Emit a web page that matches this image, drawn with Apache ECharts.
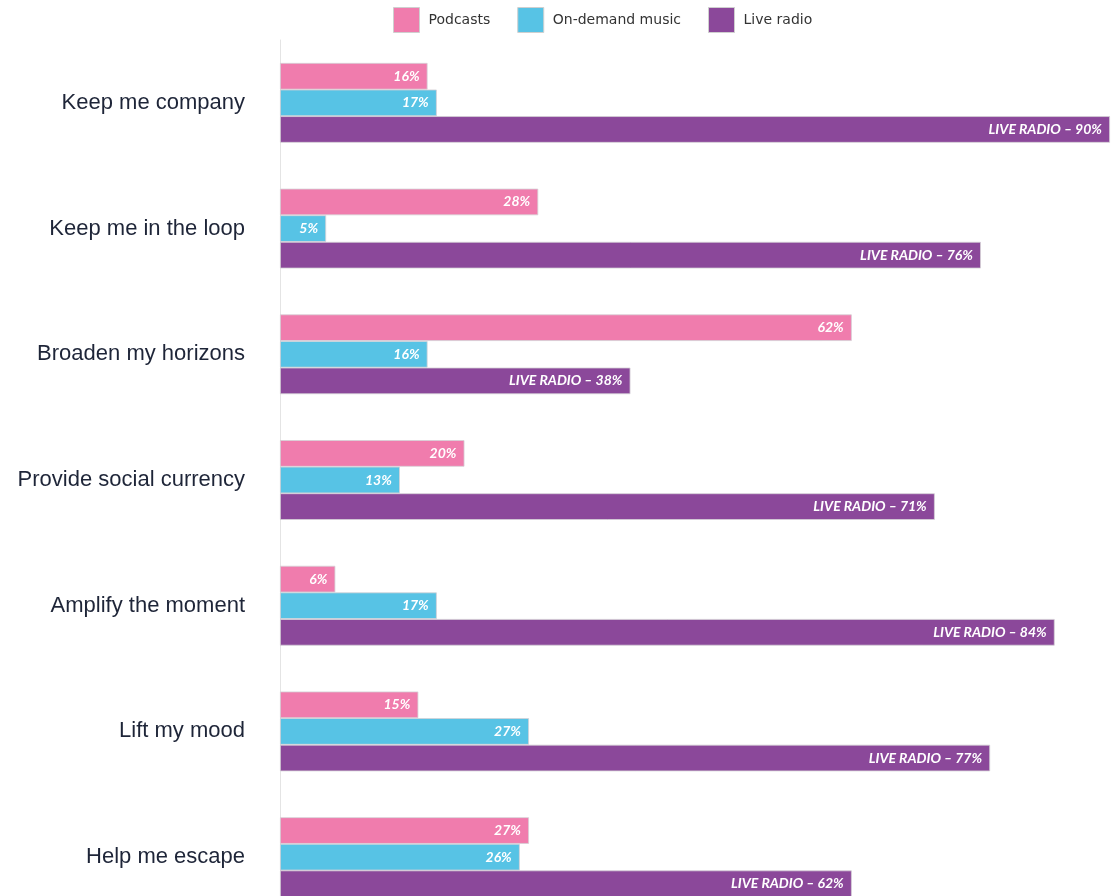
<!DOCTYPE html>
<html>
<head>
<meta charset="utf-8">
<title>What each format does for listeners</title>
<script src="https://cdn.jsdelivr.net/npm/echarts@6/dist/echarts.min.js"></script>
<style>
  html, body { margin: 0; padding: 0; background: #ffffff; }
  #chart { width: 1111px; height: 896px; }
</style>
</head>
<body>
<div id="chart"></div>
<script>
// Listening needs, top to bottom
const categories = [
  'Keep me company',
  'Keep me in the loop',
  'Broaden my horizons',
  'Provide social currency',
  'Amplify the moment',
  'Lift my mood',
  'Help me escape'
];

// Share of listeners (%) saying each format fulfils the need
const podcasts      = [16, 28, 62, 20, 6, 15, 27];
const onDemandMusic = [17, 5, 16, 13, 17, 27, 26];
const liveRadio     = [90, 76, 38, 71, 84, 77, 62];

const seriesNames = ['Podcasts', 'On-demand music', 'Live radio'];
const colors = ['#f07cad', '#57c3e5', '#8b489a'];

const chart = echarts.init(document.getElementById('chart'), null, { renderer: 'canvas' });

const barLabel = {
  show: true,
  position: 'insideRight',
  distance: 8,
  color: '#ffffff',
  fontFamily: 'Lato',
  fontStyle: 'italic',
  fontWeight: 'bold',
  fontSize: 14
};

function barSeries(name, values, color, labelFormatter) {
  return {
    name: name,
    type: 'bar',
    data: values,
    barWidth: 26.6,
    barGap: '0%',
    itemStyle: { color: color, borderColor: '#d4d0d6', borderWidth: 0.8 },
    label: Object.assign({}, barLabel, { formatter: labelFormatter }),
    emphasis: { disabled: true }
  };
}

chart.setOption({
  animation: false,
  backgroundColor: '#ffffff',
  color: colors,
  legend: {
    top: 2,
    left: 388,
    itemWidth: 26,
    itemHeight: 25,
    itemGap: 27,
    icon: 'rect',
    itemStyle: { borderColor: '#cfcfcf', borderWidth: 1 },
    textStyle: {
      fontFamily: 'DejaVu Sans',
      fontSize: 14,
      color: '#333333',
      padding: [0, 0, 0, 4]
    },
    data: seriesNames
  },
  grid: {
    left: 280,
    right: 1,
    top: 40,
    height: 880,
    outerBoundsMode: 'none',
    containLabel: false
  },
  xAxis: {
    type: 'value',
    min: 0,
    max: 90,
    show: false
  },
  yAxis: {
    type: 'category',
    data: categories,
    inverse: true,
    axisTick: { show: false },
    axisLine: { show: true, lineStyle: { color: '#e4e4e4', width: 1 } },
    axisLabel: {
      margin: 35,
      fontFamily: 'Liberation Sans',
      fontSize: 22,
      color: '#1e2538'
    }
  },
  series: [
    barSeries(seriesNames[0], podcasts, colors[0], p => p.value + '%'),
    barSeries(seriesNames[1], onDemandMusic, colors[1], p => p.value + '%'),
    barSeries(seriesNames[2], liveRadio, colors[2], p => 'LIVE RADIO – ' + p.value + '%')
  ]
});
</script>
</body>
</html>
